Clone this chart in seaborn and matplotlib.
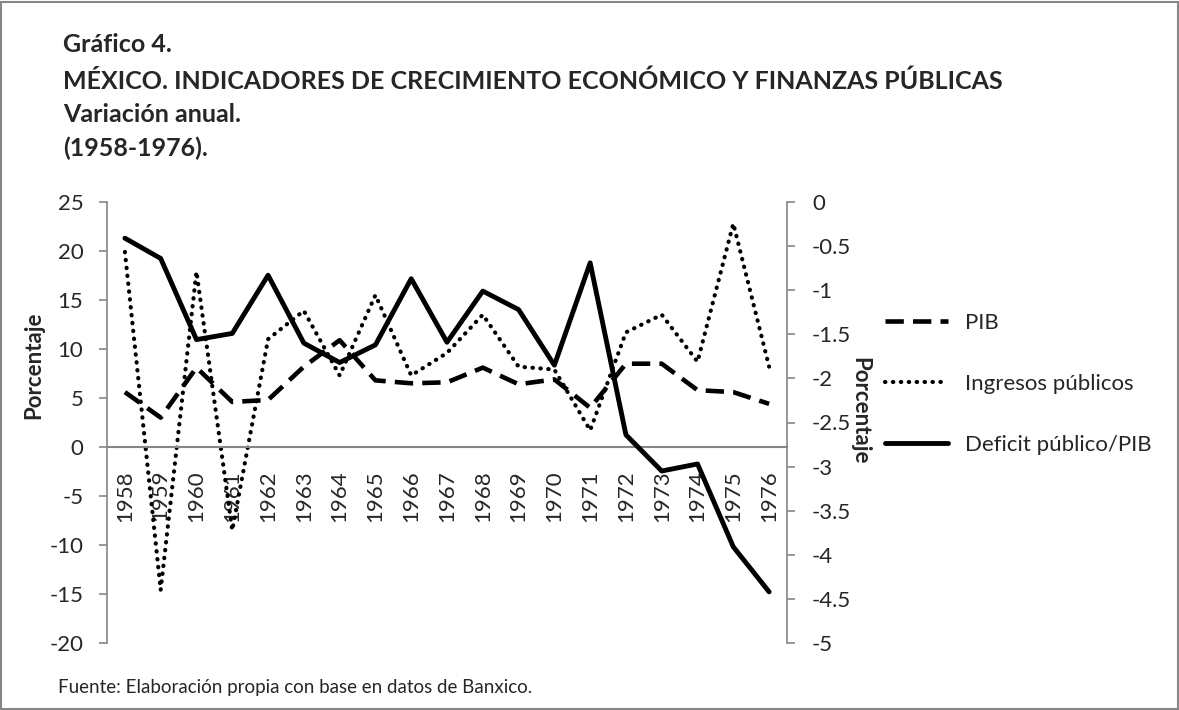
import matplotlib
matplotlib.use("Agg")
import matplotlib.pyplot as plt
import seaborn as sns
import pandas as pd
from matplotlib.patches import Rectangle

years = list(range(1958, 1977))
pib = [5.6, 3.0, 8.1, 4.6, 4.8, 8.2, 10.9, 6.8, 6.5, 6.6, 8.1, 6.4, 6.9, 4.0, 8.5, 8.5, 5.8, 5.6, 4.4]
ingresos = [19.9, -14.6, 17.9, -8.5, 11.0, 13.9, 7.3, 15.5, 7.3, 9.6, 13.5, 8.2, 7.9, 1.7, 11.7, 13.5, 8.7, 22.8, 8.2]
deficit = [-0.41, -0.64, -1.56, -1.49, -0.83, -1.60, -1.82, -1.62, -0.87, -1.59, -1.01, -1.22, -1.85, -0.69, -2.64, -3.05, -2.97, -3.91, -4.42]
left_ticks = [-20, -15, -10, -5, 0, 5, 10, 15, 20, 25]
right_ticks = [-5, -4.5, -4, -3.5, -3, -2.5, -2, -1.5, -1, -0.5, 0]
right_labels = ["-5", "-4.5", "-4", "-3.5", "-3", "-2.5", "-2", "-1.5", "-1", "-0.5", "0"]

sns.set_style("white")
plt.rcParams['font.family'] = ['Lato', 'DejaVu Sans']

FS = 16
fig = plt.figure(figsize=(11.79, 7.10), dpi=100)
ax = fig.add_axes([107/1179, 1-643/710, (787-107)/1179, (643-202)/710])
ax2 = ax.twinx()

df = pd.DataFrame({"year": years, "pib": pib, "ing": ingresos, "def": deficit})

sns.lineplot(data=df, x="year", y="pib", ax=ax, color="black", linewidth=3.3,
             label="PIB", legend=False)
ax.lines[-1].set_dashes([4, 2])
sns.lineplot(data=df, x="year", y="ing", ax=ax, color="black", linewidth=3.0,
             label="Ingresos públicos", legend=False)
ax.lines[-1].set_dashes([0.1, 1.8])
ax.lines[-1].set_dash_capstyle("round")
sns.lineplot(data=df, x="year", y="def", ax=ax2, color="black", linewidth=3.5,
             label="Deficit público/PIB", legend=False)

gray = "#868686"
ax.set_xlim(1957.5, 1976.5)
ax.set_ylim(-20, 25)
ax2.set_ylim(-5, 0)
ax.set_yticks(left_ticks)
ax.set_yticklabels([str(t) for t in left_ticks])
ax2.set_yticks(right_ticks)
ax2.set_yticklabels(right_labels)
ax.set_xticks(years)
ax.set_xticklabels([str(y) for y in years])

for a in (ax, ax2):
    for s in a.spines.values():
        s.set_visible(False)
    a.set_xlabel("")
ax.spines['left'].set_visible(True)
ax.spines['left'].set_color(gray)
ax2.spines['right'].set_visible(True)
ax2.spines['right'].set_color(gray)
ax.spines['bottom'].set_visible(True)
ax.spines['bottom'].set_color(gray)
ax.spines['bottom'].set_position(('data', 0))
ax.spines['left'].set_linewidth(1.2)
ax2.spines['right'].set_linewidth(1.2)
ax.spines['bottom'].set_linewidth(1.5)

ax.tick_params(axis='y', which='both', left=True, length=6, color=gray, width=1.2,
               labelsize=FS, pad=11)
ax.tick_params(axis='x', bottom=False, labelsize=FS, pad=13, labelrotation=90)
ax2.tick_params(axis='y', right=True, length=6, color=gray, width=1.2,
                labelsize=FS, pad=12)

ax.set_ylabel("Porcentaje", fontsize=FS, fontweight="bold")
ax.yaxis.set_label_coords(-0.092, 0.63)
ax2.set_ylabel("Porcentaje", fontsize=FS, fontweight="bold", rotation=270)
ax2.yaxis.set_label_coords(1.122, 0.526)

handles = ax.lines[:2] + ax2.lines[:1]
labels = ["PIB", "Ingresos públicos", "Deficit público/PIB"]
fig.legend(handles, labels, loc="upper left", bbox_to_anchor=(885/1179, 1-313/710),
           frameon=False, fontsize=FS, handlelength=2.85, handletextpad=0.75,
           labelspacing=1.85, borderpad=0, borderaxespad=0)

TS = 18
fig.text(63/1179, 1-44/710, "Gráfico 4.", fontsize=TS, fontweight="bold", va="center")
fig.text(63/1179, 1-81/710, "MÉXICO. INDICADORES DE CRECIMIENTO ECONÓMICO Y FINANZAS PÚBLICAS",
         fontsize=TS, fontweight="bold", va="center")
fig.text(63/1179, 1-115/710, "Variación anual.", fontsize=TS, fontweight="bold", va="center")
fig.text(63/1179, 1-148/710, "(1958-1976).", fontsize=TS, fontweight="bold", va="center")
fig.text(58/1179, 1-688/710, "Fuente: Elaboración propia con base en datos de Banxico.",
         fontsize=13.5, va="center")

fig.patches.append(Rectangle((0.001, 0.001), 0.998, 0.996, transform=fig.transFigure,
                             fill=False, edgecolor=gray, linewidth=1.5))

fig.savefig("out.png", dpi=100)
